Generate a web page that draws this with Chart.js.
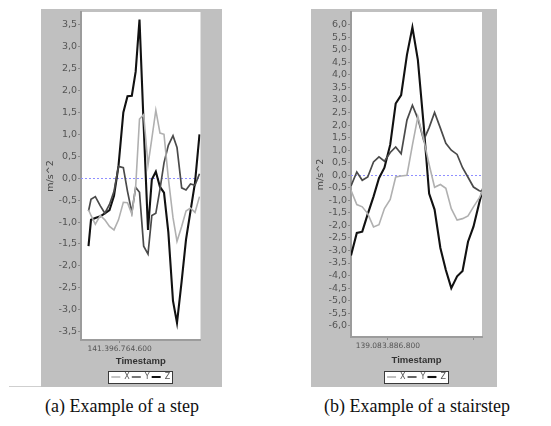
<!DOCTYPE html>
<html><head><meta charset="utf-8">
<script src="https://cdn.jsdelivr.net/npm/chart.js@4/dist/chart.umd.min.js"></script>
<style>
body{margin:0;background:#fff;width:551px;height:426px;position:relative;overflow:hidden}
.panel{position:absolute;background:#c0c0c0}
.wrap{position:absolute}
.cap{position:absolute;font-family:"Liberation Serif",serif;font-size:18px;line-height:20px;color:#111;white-space:nowrap;transform:translateX(-50%)}
</style></head><body>
<div class="panel" style="left:41px;top:9px;width:181px;height:378px"></div>
<div class="panel" style="left:311px;top:9px;width:186px;height:378px"></div>
<div style="position:absolute;left:9px;top:386px;width:32px;height:1px;background:#cfcfcf"></div>
<div class="wrap" style="left:41px;top:0;width:181px;height:387px"><canvas id="chartA" width="181" height="387"></canvas></div>
<div class="wrap" style="left:311px;top:0;width:186px;height:387px"><canvas id="chartB" width="186" height="387"></canvas></div>
<div class="cap" style="left:122px;top:396px">(a) Example of a step</div>
<div class="cap" style="left:417px;top:396px">(b) Example of a stairstep</div>
<script>
// ---- data: chart (a) ----
const seriesNames = ['X', 'Y', 'Z'];
const timeA = [141396764413, 141396764428, 141396764454, 141396764484, 141396764511, 141396764539, 141396764566,
  141396764593, 141396764622, 141396764647, 141396764673, 141396764696, 141396764719, 141396764744, 141396764770,
  141396764793, 141396764817, 141396764842, 141396764866, 141396764892, 141396764920, 141396764944, 141396764972,
  141396764998, 141396765025, 141396765052, 141396765079];
const xA = [-0.72, -0.85, -1.05, -0.85, -0.95, -1.1, -1.18, -0.95, -0.55, -0.56, -0.82, -0.2, 1.35, 1.45, 0.3,
  0.9, 1.55, 1.03, 1.0, 0.0, -0.9, -1.44, -1.1, -0.75, -0.68, -0.78, -0.42];
const yA = [-0.75, -0.48, -0.42, -0.63, -0.8, -0.6, -0.3, 0.27, 0.24, -0.3, -0.78, -0.21, -0.32, -1.55, -1.73,
  -0.85, -0.8, -0.25, 0.35, 0.75, 0.97, 0.7, -0.22, -0.27, -0.13, -0.16, 0.1];
const zA = [-1.55, -0.95, -0.91, -0.87, -0.8, -0.73, -0.4, 0.28, 1.5, 1.87, 1.88, 2.43, 3.62, 1.2, -1.18,
  -0.03, 0.15, -0.2, -0.33, -1.23, -2.8, -3.3, -2.35, -1.4, -0.75, -0.1, 1.0];
const yTicksA = [-3.5, -3.0, -2.5, -2.0, -1.5, -1.0, -0.5, 0.0, 0.5, 1.0, 1.5, 2.0, 2.5, 3.0, 3.5];
const xTicksA = [141396764600];
const rangeA = {xMin: 141396764368, xMax: 141396765085, yMin: -3.69, yMax: 3.79};

// ---- data: chart (b) ----
const timeB = [139083886692, 139083886709, 139083886725, 139083886741, 139083886758, 139083886774, 139083886790,
  139083886807, 139083886823, 139083886839, 139083886856, 139083886872, 139083886888, 139083886905, 139083886921,
  139083886937, 139083886954, 139083886970, 139083886986, 139083887003, 139083887019, 139083887035, 139083887051,
  139083887068, 139083887084];
const xB = [-0.6, -1.17, -1.26, -1.53, -2.06, -1.97, -1.33, -0.96, -0.07, -0.03, 0.0, 1.2, 2.34, 1.43, 0.43,
  -0.48, -0.37, -0.52, -1.33, -1.79, -1.73, -1.62, -1.26, -0.9, -0.45];
const yB = [-0.43, 0.13, -0.2, -0.07, 0.53, 0.73, 0.56, 0.91, 1.13, 0.86, 2.2, 2.79, 2.26, 1.4, 1.9, 2.5, 1.88,
  1.27, 1.0, 0.83, 0.3, -0.08, -0.47, -0.62, -0.66];
const zB = [-3.2, -2.3, -2.25, -1.55, -0.85, -0.12, 0.3, 1.22, 2.86, 3.2, 4.8, 5.9, 4.6, 2.0, -0.73, -1.37,
  -2.9, -3.78, -4.5, -4.03, -3.82, -2.65, -2.05, -1.1, -0.25];
const yTicksB = [-6.0, -5.5, -5.0, -4.5, -4.0, -3.5, -3.0, -2.5, -2.0, -1.5, -1.0, -0.5, 0.0, 0.5, 1.0, 1.5, 2.0,
  2.5, 3.0, 3.5, 4.0, 4.5, 5.0, 5.5, 6.0];
const xTicksB = [139083886800, 139083887050];
const rangeB = {xMin: 139083886692, xMax: 139083887076, yMin: -6.45, yMax: 6.51};

// ---- styles ----
const lineColors = ['#b0b0b0', '#4a4a4a', '#111111'];
const lineWidths = [1.6, 1.7, 2.1];
const sansFont = '"DejaVu Sans", sans-serif';

function fmtStamp(v) {
  return String(Math.round(v)).replace(/\B(?=(\d{3})+(?!\d))/g, '.');
}

const panelPlugin = {
  id: 'panelPlugin',
  beforeDraw(chart) {
    const {ctx, chartArea: a} = chart;
    ctx.save();
    ctx.fillStyle = '#ffffff';
    ctx.fillRect(a.left, a.top, a.right - a.left, a.bottom - a.top);
    const lg = chart.legend;
    if (lg && lg.legendHitBoxes && lg.legendHitBoxes.length) {
      const hb = lg.legendHitBoxes;
      let l = Infinity, r = -Infinity, t = Infinity, b = -Infinity;
      hb.forEach(h => { l = Math.min(l, h.left); r = Math.max(r, h.left + h.width);
        t = Math.min(t, h.top); b = Math.max(b, h.top + h.height); });
      l = Math.round(l - 3) + 0.5; r = Math.round(r + 2) + 0.5;
      t = Math.round(t - 2) + 0.5; b = Math.round(b + 2) + 0.5;
      ctx.fillStyle = '#ffffff';
      ctx.fillRect(l, t, r - l, b - t);
      ctx.strokeStyle = '#3a3a3a';
      ctx.lineWidth = 1;
      ctx.strokeRect(l, t, r - l, b - t);
    }
    ctx.restore();
  },
  beforeDatasetsDraw(chart) {
    const {ctx, chartArea: a, scales} = chart;
    const y0 = Math.round(scales.y.getPixelForValue(0)) + 0.5;
    ctx.save();
    ctx.strokeStyle = '#8f8fff';
    ctx.lineWidth = 1;
    ctx.setLineDash([2, 2]);
    ctx.beginPath();
    ctx.moveTo(a.left, y0);
    ctx.lineTo(a.right, y0);
    ctx.stroke();
    ctx.restore();
  }
};

function makeChart(id, times, series, yTicks, xTicks, range, lay) {
  const datasets = series.map((vals, k) => ({
    label: seriesNames[k],
    data: times.map((t, i) => ({x: t, y: vals[i]})),
    borderColor: lineColors[k],
    backgroundColor: lineColors[k],
    borderWidth: lineWidths[k],
    pointRadius: 0,
    pointStyle: 'line',
    tension: 0
  }));
  return new Chart(document.getElementById(id), {
    type: 'line',
    data: {datasets},
    plugins: [panelPlugin],
    options: {
      responsive: false,
      animation: false,
      events: [],
      layout: {padding: {top: 12, right: lay.right, bottom: 0, left: 0}},
      plugins: {
        tooltip: {enabled: false},
        legend: {
          position: 'bottom',
          fullSize: false,
          maxHeight: 16,
          labels: {
            usePointStyle: true,
            pointStyleWidth: 9,
            boxHeight: 8,
            padding: 2,
            color: '#555',
            font: {family: sansFont, size: 8}
          }
        }
      },
      scales: {
        x: {
          type: 'linear',
          min: range.xMin,
          max: range.xMax,
          afterBuildTicks: s => { s.ticks = xTicks.map(v => ({value: v})); },
          afterFit: s => { s.height = lay.xHeight; },
          ticks: {
            autoSkip: false, maxRotation: 0, padding: 2, color: '#555',
            font: {family: sansFont, size: 7.5},
            callback: (v, i) => i === 0 ? fmtStamp(v) : ''
          },
          grid: {drawOnChartArea: false, drawTicks: true, tickLength: 3, color: '#8a8a8a'},
          border: {display: true, color: '#9c9c9c', width: 2},
          title: {display: true, text: 'Timestamp', color: '#333',
            font: {family: '"Liberation Sans", sans-serif', size: 9.5, weight: 'bold'},
            padding: {top: 2, bottom: lay.titlePad}}
        },
        y: {
          type: 'linear',
          min: range.yMin,
          max: range.yMax,
          afterBuildTicks: s => { s.ticks = yTicks.map(v => ({value: v})); },
          afterFit: s => { s.width = 40; },
          ticks: {
            autoSkip: false, padding: 1, color: '#555',
            font: {family: sansFont, size: 9.5},
            callback: v => v.toFixed(1).replace('.', ',')
          },
          grid: {drawOnChartArea: false, drawTicks: true, tickLength: 3, color: '#8a8a8a'},
          border: {display: true, color: '#9c9c9c', width: 2},
          title: {display: true, text: 'm/s^2', color: '#444',
            font: {family: sansFont, size: 9.5},
            padding: {top: 4, bottom: 0}}
        }
      }
    }
  });
}

makeChart('chartA', timeA, [xA, yA, zA], yTicksA, xTicksA, rangeA, {right: 21.5, xHeight: 31, titlePad: 3.6});
makeChart('chartB', timeB, [xB, yB, zB], yTicksB, xTicksB, rangeB, {right: 15, xHeight: 34, titlePad: 5});
</script>
</body></html>
